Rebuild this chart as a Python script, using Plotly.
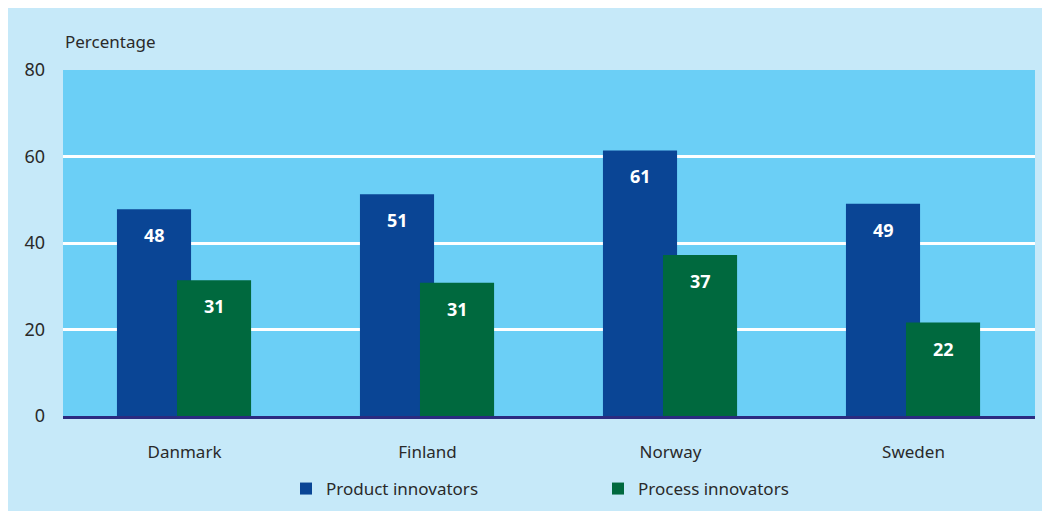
import plotly.graph_objects as go

countries = ["Danmark", "Finland", "Norway", "Sweden"]
product = [47.8, 51.3, 61.4, 49.1]
process = [31.4, 30.8, 37.2, 21.6]
product_labels = ["48", "51", "61", "49"]
process_labels = ["31", "31", "37", "22"]
series_names = ["Product innovators", "Process innovators"]
y_ticks = [0, 20, 40, 60, 80]

FONT = "Noto Sans"
C_OUT = "#c6e9f9"
C_PLOT = "#6bcff6"
C_PROD = "#0a4595"
C_PROC = "#00693e"
C_TEXT = "#2a2a2a"

W, H = 1050, 511
L, T = 55, 62
pw, ph = 972, 346
R, B = W - L - pw, H - T - ph

fig = go.Figure()
fig.add_trace(go.Bar(x=countries, y=product, name=series_names[0], marker_color=C_PROD,
                     marker_line_width=0, width=0.305, offset=-0.278, hoverinfo="skip"))
fig.add_trace(go.Bar(x=countries, y=process, name=series_names[1], marker_color=C_PROC,
                     marker_line_width=0, width=0.305, offset=-0.031, hoverinfo="skip"))

annotations = []
for c, v, t in zip(countries, product, product_labels):
    annotations.append(dict(x=c, y=v, text=f"<b>{t}</b>", showarrow=False, xshift=-30, yshift=-26,
                            yanchor="middle", font=dict(family=FONT, size=18, color="white")))
for c, v, t in zip(countries, process, process_labels):
    annotations.append(dict(x=c, y=v, text=f"<b>{t}</b>", showarrow=False, xshift=30, yshift=-26,
                            yanchor="middle", font=dict(family=FONT, size=18, color="white")))
annotations.append(dict(xref="paper", yref="paper", x=0, y=(ph + 28) / ph, xanchor="left",
                        yanchor="middle", text="Percentage", showarrow=False,
                        font=dict(family=FONT, size=17, color=C_TEXT)))

fig.update_layout(
    width=W, height=H,
    margin=dict(l=L, r=R, t=T, b=B),
    paper_bgcolor=C_OUT, plot_bgcolor=C_PLOT,
    barmode="overlay",
    font=dict(family=FONT, size=17, color=C_TEXT),
    showlegend=True,
    legend=dict(orientation="h", x=(278 - L) / pw, xanchor="left", y=-73 / ph,
                yanchor="middle", entrywidth=267, entrywidthmode="pixels", itemwidth=30,
                bgcolor="rgba(0,0,0,0)", font=dict(family=FONT, size=17, color=C_TEXT)),
    annotations=annotations,
    xaxis=dict(showgrid=False, showline=True, linecolor="#2b2b80", linewidth=3,
               ticks="", ticklabelstandoff=19, tickfont=dict(family=FONT, size=17, color=C_TEXT),
               fixedrange=True),
    yaxis=dict(range=[0, 80], tickvals=y_ticks, showgrid=True, gridcolor="white", gridwidth=2.5,
               zeroline=False, showline=False, ticks="", ticklabelstandoff=17,
               tickfont=dict(family=FONT, size=18, color=C_TEXT), fixedrange=True),
)

fig.write_html("out.html")
